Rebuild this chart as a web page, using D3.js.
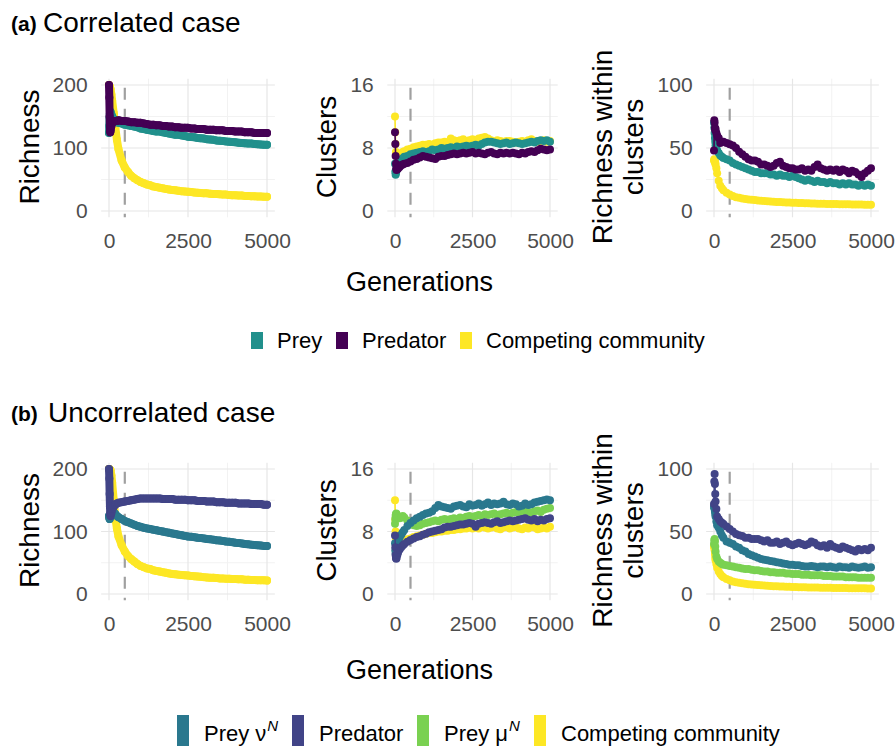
<!DOCTYPE html>
<html><head><meta charset="utf-8">
<script src="https://cdn.jsdelivr.net/npm/d3@7"></script>
<style>
html,body{margin:0;padding:0;background:#fff;}
text{font-family:"Liberation Sans",Arial,sans-serif;}
</style></head>
<body>
<svg id="chart" width="896" height="747"></svg>
<script>
// ---------------- DATA ----------------
const gens = [0,10,20,30,40,50,75,100,150,200,250,
  300,400,500,600,700,800,900,1000,1100,1200,
  1300,1400,1500,1600,1700,1800,1900,2000,2100,2200,
  2300,2400,2500,2600,2700,2800,2900,3000,3100,3200,
  3300,3400,3500,3600,3700,3800,3900,4000,4100,4200,
  4300,4400,4500,4600,4700,4800,4900,5000];

// (a) Correlated case
const richPreyA = [124,135,148,155,158,157,153,150,146,143,141,
  140,139,137,136,135,134,133,131,130,129,
  128,127,126,126,125,124,123,122,121,121,
  120,119,118,117.5,117,116,115.5,115,114,113.5,
  113,112,111.5,111,110.5,110,109.5,109,108.5,108,
  107.5,107,107,106.5,106,105.5,105,105];
const richPredA = [200,180,150,130,125,128,135,140,142,143,143,
  144,143,143,142,141,141,140,140,139,138,
  137,137,136,136,135,135,134,134,133,133,
  132,132,132,131,131,130,130,130,129,129,
  129,128,128,128,127,127,127,126,126,126,
  125,125,125,124,124,124,124,124];
const richCompA = [200,199,198,197,195,193,185,175,155,133,113,
  98,80,69,62,56,52,49,46,44,42,
  41,39,38,37,36,35,34,33.5,33,32,
  31.5,31,30.5,30,29.5,29,28.5,28,28,27.5,
  27,27,26.5,26,26,25.5,25,25,24.5,24.5,
  24,24,23.5,23.5,23,23,22.5,22.5];

const clusPreyA = [6.0,5.0,4.6,4.8,5.0,5.3,5.6,5.9,6.2,6.5,6.7,
  6.9,7.0,7.2,7.3,7.4,7.5,7.6,7.5,7.6,7.8,
  7.7,7.8,8.0,7.9,8.0,8.1,8.0,8.2,8.1,8.2,
  8.3,8.2,8.3,8.4,8.3,8.5,8.7,8.8,8.8,8.7,
  8.6,8.5,8.6,8.7,8.5,8.6,8.7,8.6,8.5,8.6,
  8.7,8.8,8.7,8.9,9.0,8.9,9.0,8.8];
const clusPredA = [10.0,8.5,7.0,6.0,5.4,5.2,5.3,5.4,5.6,5.8,5.9,
  6.0,6.1,6.3,6.5,6.6,6.8,7.0,6.9,6.8,6.7,
  6.6,6.9,7.0,7.0,7.1,7.2,7.3,7.2,7.3,7.4,
  7.3,7.4,7.5,7.3,7.4,7.3,7.2,7.4,7.5,7.3,
  7.2,7.4,7.3,7.4,7.3,7.4,7.3,7.2,7.4,7.3,
  7.5,7.6,7.5,7.7,7.9,7.8,7.7,7.8];
const clusCompA = [12,10,8.5,7.5,7.2,7.0,7.0,7.1,7.2,7.3,7.5,
  7.6,7.8,7.9,8.1,8.2,8.3,8.4,8.4,8.5,8.4,
  8.6,8.7,8.7,8.8,8.7,9.2,9.0,8.9,9.0,9.1,
  8.9,9.0,9.1,9.0,9.2,9.3,9.4,9.2,9.0,8.8,
  9.0,8.9,8.8,8.9,8.9,8.8,8.7,8.8,8.9,8.8,
  9.0,9.1,8.9,8.8,8.9,9.0,8.8,8.9];

const withinPreyA = [70,66,62,58,55,52,50,48,46,44,43,
  42,41,40,38,37,36,35,34,33,32,
  31,31,30,30,30,29,29,28,29,28,
  28,27,28,27,26,25,24,25,24,23,
  24,23,23,22,23,22,22,21,22,21,
  22,21,21,20,21,20,21,20];
const withinPredA = [48,72,70,66,64,65,62,60,58,54,55,
  55,54,53,52,50,47,45,43,41,40,
  40,39,37,37,36,35,36,38,39,36,
  35,34,34,33,33,34,32,33,32,35,
  37,34,33,32,33,32,33,31,33,32,
  30,32,31,29,27,30,32,34];
const withinCompA = [40,41,40,39,38,37,34,30,24,20,18,
  16.5,14.5,13,12,11,10.5,10,9.5,9.2,9,
  8.7,8.4,8.2,8,7.8,7.6,7.4,7.2,7.1,7,
  6.8,6.7,6.6,6.5,6.4,6.3,6.2,6.1,6,5.9,
  5.8,5.8,5.7,5.6,5.6,5.5,5.5,5.4,5.4,5.3,
  5.3,5.2,5.2,5.1,5.1,5,5,5];

// (b) Uncorrelated case
const richPreyNuB = [125,122,120,122,126,130,133,133,131,128,125,
  123,120,117,115,113,111,109,107.5,106,105,
  104,103,102,101,100,99,98,97,96,95,
  94,93,92,91.5,91,90,89.5,89,88,87.5,
  87,86,85.5,85,84,83.5,83,82,81.5,81,
  80,79.5,79,78.5,78,77.5,77,77];
const richPredB = [200,185,160,140,128,125,130,136,140,143,145,
  146,147,148,149,150,151,152,153,153,153,
  153,153,153,153,152,152,152,152,151,151,
  151,151,150,150,150,149,149,149,148,148,
  148,147,147,147,146,146,146,146,145,145,
  145,145,144,144,144,144,143,143];
const richCompB = [200,200,199,199,198,198,190,178,150,122,105,
  92,78,68,61,56,52,48,45,43,41,
  40,38,37,36,35,34,33,32,31.5,31,
  30.5,30,29.5,29,28.5,28,27.5,27,26.5,26,
  26,25.5,25,25,24.5,24.5,24,24,23.5,23.5,
  23,23,22.5,22.5,22,22,22,21.5];

const clusPreyNuB = [6.5,5.6,5.2,5.4,5.7,6.0,6.4,6.8,7.2,7.6,7.9,
  8.2,8.7,9.1,9.4,9.7,9.9,10.1,10.3,10.4,10.6,
  11.0,11.4,11.2,11.1,11.0,10.9,11.2,11.3,11.4,11.2,
  11.1,11.5,11.3,11.4,11.6,11.3,11.5,11.7,11.4,11.6,
  11.5,11.6,11.8,11.5,11.4,11.6,11.5,11.2,11.3,11.6,
  11.4,11.5,11.7,11.8,11.9,12.0,12.1,12.0];
const clusPredB = [7.5,6.0,5.0,4.6,4.5,4.6,5.0,5.3,5.7,6.0,6.2,
  6.4,6.7,6.9,7.1,7.3,7.4,7.6,7.7,7.9,8.0,
  8.1,8.2,8.3,8.5,8.6,8.6,8.7,8.8,8.9,8.9,
  9.0,9.1,9.0,8.6,9.0,9.1,9.2,9.1,9.0,9.2,
  9.3,9.1,9.2,9.3,9.4,9.3,9.4,9.5,9.6,9.7,
  9.5,9.4,9.6,9.3,9.5,9.4,9.6,9.7];
const clusPreyMuB = [9.0,9.6,10.0,10.2,10.3,10.2,10.0,9.8,9.7,9.8,10.0,
  9.8,9.4,9.0,8.8,8.7,8.8,9.0,9.1,9.2,9.3,
  9.4,9.3,9.5,9.6,9.5,9.6,9.7,9.6,9.8,9.7,
  9.9,10.0,9.9,10.0,10.1,10.0,10.2,10.1,10.2,10.3,
  10.1,10.2,10.3,10.4,10.2,10.4,10.5,10.3,10.4,10.6,
  10.5,10.4,10.6,10.7,10.5,10.8,10.9,11.0];
const clusCompB = [12,9.5,8,7,6.5,6.3,6.4,6.5,6.6,6.7,6.8,
  6.9,7.0,7.1,7.3,7.4,7.5,7.6,7.7,7.8,7.8,
  7.9,8.0,8.0,8.1,8.1,8.2,8.2,8.3,8.3,8.4,
  8.4,8.5,8.4,8.5,8.4,8.6,8.5,8.4,8.5,8.6,
  8.4,8.3,8.5,8.6,8.4,8.5,8.6,8.4,8.3,8.5,
  8.4,8.6,8.5,8.3,8.4,8.5,8.4,8.6];

const withinPreyNuB = [70,69,68,66,64,62,58,55,53,50,47,
  45,42,41,40,38,37,35,34,32,31,
  30,29,28,27.5,27,26.5,26,25.5,25,24.5,
  24,23.5,23.5,23,23,22.5,22,22,22.5,22,
  21.5,22,22,21.5,22,21.5,21,22,21.5,21.5,
  21,22,21.5,21,21.5,22,21,21.5];
const withinPredB = [72,90,96,88,80,74,68,62,60,58,57,
  56,54,52,50,48,47,46.5,45,45,44,
  44,44,43,42,43,41,41,42,40,41,
  42,40,39,40,41,40,39,40,42,41,
  39,38,39,37,40,38,37,36,38,37,
  36,35,34,36,35,36,35,37];
const withinPreyMuB = [40,43,44,42,38,34,30,28,26,25,24,
  23.5,23,22.5,22,21.5,21,20.5,20,20,19.5,
  19,19,18.5,18,18,17.5,17.5,17,17,17,
  16.5,16.5,16,16,16,15.5,15.5,15.5,15,15,
  15,15,14.5,14.5,14.5,14,14,14,14,13.5,
  13.5,13.5,13.5,13,13,13,13,13];
const withinCompB = [38,37,35,32,29,27,24,21,18,16,14.5,
  13.5,12,11,10,9.5,9,8.6,8.2,7.9,7.6,
  7.4,7.2,7.0,6.8,6.6,6.5,6.3,6.2,6.1,6.0,
  5.9,5.8,5.7,5.6,5.5,5.5,5.4,5.3,5.3,5.2,
  5.2,5.1,5.1,5.0,5.0,4.9,4.9,4.8,4.8,4.8,
  4.7,4.7,4.7,4.6,4.6,4.6,4.5,4.5];

const xTicks = [0, 2500, 5000];
const xMinor = [1250, 3750];
const richTicks = [0, 100, 200], richMinor = [50, 150];
const clusTicks = [0, 8, 16], clusMinor = [4, 12];
const withinTicks = [0, 50, 100], withinMinor = [25, 75];
const splitGen = 500;

const legendA = ["Prey", "Predator", "Competing community"];
const legendB = ["Prey ν", "Predator", "Prey μ", "Competing community"];

// ---------------- STYLE / LAYOUT ----------------
const C = {preyA:"#21908C", predA:"#440154", comp:"#FDE725",
           preyNu:"#2A788E", predB:"#414487", preyMu:"#7AD151"};
const cols = [{x0:109,x1:267},{x0:395,x1:550},{x0:714,x1:871}];
const rows = [{y0:211,y1:85},{y0:594,y1:469}];
const R_PT = 4;

const svg = d3.select("#chart");

function drawPanel(col, row, ticks, minor, series, band) {
  const tmax = ticks[ticks.length-1];
  const x = d3.scaleLinear().domain([0,5000]).range([col.x0,col.x1]);
  const y = d3.scaleLinear().domain([0,tmax]).range([row.y0,row.y1]);
  const padX = (col.x1-col.x0)*0.05, padY = (row.y0-row.y1)*0.05;
  const L = col.x0-padX, R = col.x1+padX, T = row.y1-padY, B = row.y0+padY;
  const g = svg.append("g");
  g.selectAll(".mx").data(xMinor).join("line")
    .attr("x1",d=>x(d)).attr("x2",d=>x(d)).attr("y1",T).attr("y2",B)
    .attr("stroke","#f2f2f2").attr("stroke-width",1);
  g.selectAll(".my").data(minor).join("line")
    .attr("x1",L).attr("x2",R).attr("y1",d=>y(d)).attr("y2",d=>y(d))
    .attr("stroke","#f2f2f2").attr("stroke-width",1);
  g.selectAll(".Mx").data(xTicks).join("line")
    .attr("x1",d=>x(d)).attr("x2",d=>x(d)).attr("y1",T).attr("y2",B)
    .attr("stroke","#e6e6e6").attr("stroke-width",1.2);
  g.selectAll(".My").data(ticks).join("line")
    .attr("x1",L).attr("x2",R).attr("y1",d=>y(d)).attr("y2",d=>y(d))
    .attr("stroke","#e6e6e6").attr("stroke-width",1.2);
  const ax = g.append("g").attr("transform",`translate(0,${B})`)
    .call(d3.axisBottom(x).tickValues(xTicks).tickFormat(d3.format("d")).tickSize(0).tickPadding(16));
  const ay = g.append("g").attr("transform",`translate(${L},0)`)
    .call(d3.axisLeft(y).tickValues(ticks).tickSize(0).tickPadding(13.5));
  [ax,ay].forEach(a=>{
    a.select(".domain").remove();
    a.selectAll("text").attr("fill","#4d4d4d").style("font-size","21px")
      .style("font-family",'"Liberation Sans",Arial,sans-serif');
  });
  g.append("line").attr("x1",x(splitGen)).attr("x2",x(splitGen)).attr("y1",T).attr("y2",B)
    .attr("stroke","#a0a0a0").attr("stroke-width",2.2)
    .attr("stroke-dasharray","12 9").attr("stroke-dashoffset",12);
  const line = d3.line().x((d,i)=>x(gens[i])).y(d=>y(d));
  series.forEach(s=>{
    const n = Math.min(s.v.length, gens.length);
    const vals = s.v.slice(0,n);
    g.append("path").attr("d",line(vals)).attr("fill","none")
      .attr("stroke",s.c).attr("stroke-width",band ? 2*R_PT : 1.6)
      .attr("stroke-linejoin","round").attr("stroke-linecap","round");
    g.append("g").selectAll("circle").data(vals).join("circle")
      .attr("cx",(d,i)=>x(gens[i])).attr("cy",d=>y(d)).attr("r",R_PT).attr("fill",s.c);
  });
}

// Row (a)
drawPanel(cols[0], rows[0], richTicks, richMinor,
  [{v:richCompA,c:C.comp},{v:richPreyA,c:C.preyA},{v:richPredA,c:C.predA}], true);
drawPanel(cols[1], rows[0], clusTicks, clusMinor,
  [{v:clusCompA,c:C.comp},{v:clusPreyA,c:C.preyA},{v:clusPredA,c:C.predA}], false);
drawPanel(cols[2], rows[0], withinTicks, withinMinor,
  [{v:withinCompA,c:C.comp},{v:withinPreyA,c:C.preyA},{v:withinPredA,c:C.predA}], false);
// Row (b)
drawPanel(cols[0], rows[1], richTicks, richMinor,
  [{v:richCompB,c:C.comp},{v:richPreyNuB,c:C.preyNu},{v:richPredB,c:C.predB}], true);
drawPanel(cols[1], rows[1], clusTicks, clusMinor,
  [{v:clusCompB,c:C.comp},{v:clusPreyMuB,c:C.preyMu},{v:clusPreyNuB,c:C.preyNu},{v:clusPredB,c:C.predB}], false);
drawPanel(cols[2], rows[1], withinTicks, withinMinor,
  [{v:withinCompB,c:C.comp},{v:withinPreyMuB,c:C.preyMu},{v:withinPreyNuB,c:C.preyNu},{v:withinPredB,c:C.predB}], false);

function txt(x,y,s,size,opts={}) {
  const t = svg.append("text").attr("x",x).attr("y",y).text(s)
    .style("font-size",size+"px").attr("fill",opts.fill||"#000");
  if (opts.bold) t.style("font-weight","bold");
  if (opts.anchor) t.attr("text-anchor",opts.anchor);
  return t;
}
txt(11,31,"(a)",21,{bold:true});
txt(43,32,"Correlated case",28);
txt(11,421,"(b)",21,{bold:true});
txt(48,422,"Uncorrelated case",28);

function ytitle(x,y,s){
  svg.append("text").attr("transform",`translate(${x},${y}) rotate(-90)`)
    .attr("text-anchor","middle").style("font-size","28px").text(s);
}
[0,1].forEach(r=>{
  const cy = (rows[r].y0+rows[r].y1)/2;
  ytitle(39, cy-1, "Richness");
  ytitle(336, cy-1, "Clusters");
  ytitle(612, cy-1, "Richness within");
  ytitle(643, cy-1, "clusters");
});
txt(419.5,291,"Generations",27,{anchor:"middle"});
txt(419.5,679,"Generations",27,{anchor:"middle"});

const legAx = [251,336,460];
const colorsA = [C.preyA,C.predA,C.comp];
legendA.forEach((s,i)=>{
  svg.append("rect").attr("x",legAx[i]).attr("y",332).attr("width",12).attr("height",17).attr("fill",colorsA[i]);
  txt(legAx[i]+26,348,s,22);
});
const legBx = [177,292,417,534];
const colorsB = [C.preyNu,C.predB,C.preyMu,C.comp];
legendB.forEach((s,i)=>{
  svg.append("rect").attr("x",legBx[i]).attr("y",715).attr("width",12).attr("height",31).attr("fill",colorsB[i]);
  const t = txt(legBx[i]+27,741,s,22);
  if (i===0 || i===2) {
    t.append("tspan").attr("dy",-10).attr("dx",1).style("font-size","15px").style("font-style","italic").text("N");
  }
});
</script>
</body></html>
